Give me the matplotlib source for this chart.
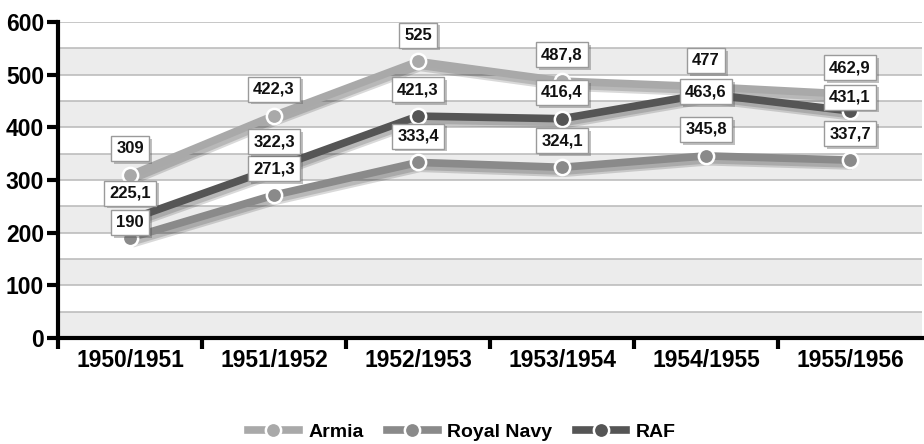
import matplotlib
matplotlib.use("Agg")
import matplotlib.pyplot as plt
import matplotlib.patheffects as pe
from matplotlib.lines import Line2D

categories = ["1950/1951", "1951/1952", "1952/1953", "1953/1954", "1954/1955", "1955/1956"]
armia = [309, 422.3, 525, 487.8, 477, 462.9]
royal_navy = [190, 271.3, 333.4, 324.1, 345.8, 337.7]
raf = [225.1, 322.3, 421.3, 416.4, 463.6, 431.1]
series_names = ["Armia", "Royal Navy", "RAF"]
y_ticks = [0, 100, 200, 300, 400, 500, 600]

colors = ["#a9a9a9", "#8a8a8a", "#555555"]
# label vertical offsets in points (default 19), overrides for crowded labels
label_offset_override = {(1, 0): 11, (2, 4): 1.5, (2, 5): 10}

plt.rcParams['font.family'] = ['Liberation Sans', 'DejaVu Sans']

fig = plt.figure(figsize=(9.24, 4.44), dpi=100)
ax = fig.add_axes([58/924, 1-338/444, (922-58)/924, (338-22)/444])

x = list(range(len(categories)))
ax.set_xlim(-0.5, len(categories) - 0.5)
ax.set_ylim(0, 600)

# alternating bands
for lo in range(0, 600, 100):
    ax.axhspan(lo, lo + 50, color="#ececec", zorder=0, lw=0)
for g in range(50, 601, 50):
    ax.axhline(g, color="#bdbdbd", lw=1.2, zorder=0.5)

shadow = [pe.SimpleLineShadow(offset=(1.5, -3), shadow_color="black", alpha=0.15, linewidth=8),
          pe.SimpleLineShadow(offset=(1.5, -3), shadow_color="black", alpha=0.15, linewidth=5),
          pe.Normal()]
data = [armia, royal_navy, raf]
for i, (vals, c) in enumerate(zip(data, colors)):
    ax.plot(x, vals, color=c, lw=5.5, solid_capstyle="butt", zorder=2 + i,
            path_effects=shadow)
    ax.plot(x, vals, ls="none", zorder=2.5 + i,
            marker="o", markersize=11, markerfacecolor=c, markeredgecolor="white",
            markeredgewidth=1.8)

for i, vals in enumerate(data):
    for j, v in enumerate(vals):
        off = label_offset_override.get((i, j), 19)
        txt = f"{v:g}".replace(".", ",")
        ax.annotate(txt, (x[j], v), xytext=(0, off), textcoords="offset points",
                    ha="center", va="center", fontsize=12, fontweight="bold",
                    color="#111111", zorder=10,
                    bbox=dict(boxstyle="square,pad=0.3", fc="white", ec="#9a9a9a", lw=1),
                    )

for t in ax.texts:
    t.get_bbox_patch().set_path_effects([pe.SimplePatchShadow(offset=(2, -2), alpha=0.35), pe.Normal()])

ax.set_yticks(y_ticks)
ax.set_yticklabels([str(t) for t in y_ticks], fontsize=16.5, fontweight="bold")
ax.set_xticks([k + 0.5 for k in x[:-1]] + [-0.5], minor=False)
ax.set_xticklabels([])
ax.set_xticks(x, minor=True)
ax.set_xticklabels(categories, minor=True, fontsize=16.5, fontweight="bold")
ax.tick_params(axis="x", which="minor", length=0, pad=8)
ax.tick_params(axis="x", which="major", length=8, width=3, direction="out")
ax.tick_params(axis="y", length=8, width=3, direction="out", pad=2)

for s in ["top", "right"]:
    ax.spines[s].set_visible(False)
for s in ["left", "bottom"]:
    ax.spines[s].set_linewidth(3)
    ax.spines[s].set_zorder(20)

handles = [Line2D([0], [0], color=c, lw=5.5, marker="o", markersize=11,
                  markerfacecolor=c, markeredgecolor="white", markeredgewidth=1.8)
           for c in colors]
fig.legend(handles, series_names, loc="center", bbox_to_anchor=(0.5, 1-432/444),
           ncol=3, frameon=False, prop=dict(size=14, weight="bold"),
           handlelength=2.6, columnspacing=1.2, handletextpad=0.5)

fig.savefig("out.png", dpi=100)
